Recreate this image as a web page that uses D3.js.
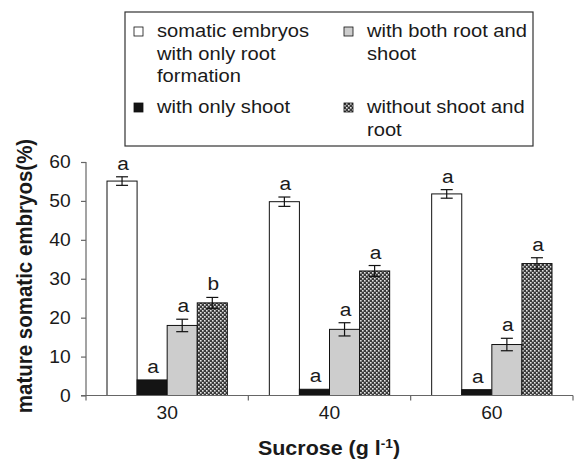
<!DOCTYPE html>
<html lang="en">
<head>
<meta charset="utf-8">
<title>Sucrose and mature somatic embryos</title>
<script src="https://d3js.org/d3.v7.min.js"></script>
<style>
    body{ margin:0; background:#fff; }
    text{ font-family: "Liberation Sans", Arial, sans-serif; fill:#1a1a1a; }
    .tickT{ font-size:17.5px; }
    .legendT{ font-size:18.3px; }
    .letterT{ font-size:19px; }
    .titleT{ font-size:19.5px; font-weight:bold; }
</style>
</head>
<body>
<div id="container"></div>
<script>
// data
var categories = ['30', '40', '60'];
var seriesKeys = ['root', 'shoot', 'both', 'none'];
var rootOnly  = [55.1, 49.8, 51.8];
var shootOnly = [4.0, 1.6, 1.5];
var bothRS    = [18.0, 17.0, 13.1];
var noneRS    = [23.8, 32.0, 33.9];
var rootErr   = [1.1, 1.2, 1.1];
var shootErr  = [0, 0, 0];
var bothErr   = [1.6, 1.7, 1.6];
var noneErr   = [1.4, 1.4, 1.5];
var rootLetters  = ['a', 'a', 'a'];
var shootLetters = ['a', 'a', 'a'];
var bothLetters  = ['a', 'a', 'a'];
var noneLetters  = ['b', 'a', 'a'];
var legendLines = [
    ['somatic embryos', 'with only root', 'formation'],
    ['with only shoot'],
    ['with both root and', 'shoot'],
    ['without shoot and', 'root']
];
var yTicks = [0, 10, 20, 30, 40, 50, 60];

var width = 576, height = 464;
var k = 1.1; // the figure's text is a little wider than tall
var plot = {left:86, right:573, top:162, bottom:395.5};

var svg = d3.select('#container').append('svg')
    .attr('width', width).attr('height', height);

var defs = svg.append('defs');
var pat = defs.append('pattern').attr('id', 'checker')
    .attr('width', 4).attr('height', 4).attr('patternUnits', 'userSpaceOnUse');
pat.append('rect').attr('width', 4).attr('height', 4).attr('fill', '#3a3a3a');
pat.append('rect').attr('x', 0).attr('y', 0).attr('width', 1.6).attr('height', 1.6).attr('fill', '#e4e4e4');
pat.append('rect').attr('x', 2).attr('y', 2).attr('width', 1.6).attr('height', 1.6).attr('fill', '#e4e4e4');

var fills = {root:'#ffffff', shoot:'#141414', both:'#cdcdcd', none:'url(#checker)'};
var values = {root:rootOnly, shoot:shootOnly, both:bothRS, none:noneRS};
var errs = {root:rootErr, shoot:shootErr, both:bothErr, none:noneErr};
var letters = {root:rootLetters, shoot:shootLetters, both:bothLetters, none:noneLetters};

var x0 = d3.scaleBand().domain(categories).range([plot.left, plot.right]);
var x1 = d3.scaleBand().domain(seriesKeys).range([21, x0.bandwidth() - 21]);
var y = d3.scaleLinear().domain([0, 60]).range([plot.bottom, plot.top]);

var data = [];
categories.forEach(function(c, i){
    seriesKeys.forEach(function(s){
        data.push({cat:c, key:s, v:values[s][i], e:errs[s][i], l:letters[s][i]});
    });
});

// bars
svg.append('g').selectAll('rect')
    .data(data).enter().append('rect')
    .attr('x', d => x0(d.cat) + x1(d.key))
    .attr('y', d => y(d.v))
    .attr('width', x1.bandwidth())
    .attr('height', d => y(0) - y(d.v))
    .attr('fill', d => fills[d.key])
    .attr('stroke', '#111')
    .attr('stroke-width', 1);

// error bars
var eb = svg.append('g').attr('stroke', '#111').attr('stroke-width', 1.2)
    .selectAll('g').data(data.filter(d => d.e > 0)).enter().append('g');
eb.append('line')
    .attr('x1', d => x0(d.cat) + x1(d.key) + x1.bandwidth()/2)
    .attr('x2', d => x0(d.cat) + x1(d.key) + x1.bandwidth()/2)
    .attr('y1', d => y(d.v + d.e)).attr('y2', d => y(d.v - d.e));
[1, -1].forEach(function(sg){
    eb.append('line')
        .attr('x1', d => x0(d.cat) + x1(d.key) + x1.bandwidth()/2 - 6)
        .attr('x2', d => x0(d.cat) + x1(d.key) + x1.bandwidth()/2 + 6)
        .attr('y1', d => y(d.v + sg*d.e)).attr('y2', d => y(d.v + sg*d.e));
});

// significance letters
svg.append('g').selectAll('text')
    .data(data).enter().append('text')
    .attr('class', 'letterT')
    .attr('text-anchor', 'middle')
    .attr('transform', d => 'translate(' + (x0(d.cat) + x1(d.key) + x1.bandwidth()/2 + 1) + ',' + (y(d.v + d.e) - 7) + ') scale(' + k + ',1)')
    .text(d => d.l);

// y axis
var yAxis = svg.append('g')
    .attr('transform', 'translate(' + plot.left + ',0)')
    .call(d3.axisLeft(y).tickValues(yTicks).tickSize(5).tickPadding(9));
yAxis.selectAll('path, line').attr('stroke', '#666').attr('stroke-width', 1.2);
yAxis.selectAll('text').attr('class', 'tickT').attr('font-size', null).attr('font-family', null)
    .attr('transform', 'scale(' + k + ',1)');
yAxis.select('.domain').attr('d', 'M0,' + (plot.top) + 'V' + (plot.bottom + 5));

// x axis
var xAxis = svg.append('g')
    .attr('transform', 'translate(0,' + plot.bottom + ')')
    .call(d3.axisBottom(x0).tickSize(0).tickPadding(11));
xAxis.select('.domain').attr('d', 'M' + (plot.left - 5) + ',0H' + plot.right)
    .attr('stroke', '#666').attr('stroke-width', 1.2);
xAxis.selectAll('.tick text').attr('class', 'tickT').attr('font-size', null).attr('font-family', null)
    .attr('transform', 'scale(' + k + ',1)');
xAxis.selectAll('.bound')
    .data(categories.slice(1).concat(['end'])).enter().append('line')
    .attr('class', 'bound')
    .attr('x1', d => d === 'end' ? plot.right : x0(d))
    .attr('x2', d => d === 'end' ? plot.right : x0(d))
    .attr('y1', 0).attr('y2', 5)
    .attr('stroke', '#666').attr('stroke-width', 1.2);

// axis titles
svg.append('text')
    .attr('class', 'titleT')
    .attr('text-anchor', 'middle')
    .attr('transform', 'translate(32,' + 276 + ') scale(' + k + ',1) rotate(-90)')
    .style('font-size', '20.5px')
    .text('mature somatic embryos(%)');
var xt = svg.append('text')
    .attr('class', 'titleT')
    .attr('text-anchor', 'middle')
    .attr('transform', 'translate(329,455) scale(' + k + ',1)');
xt.append('tspan').text('Sucrose (g l');
xt.append('tspan').attr('dy', -7).style('font-size', '12.5px').text('-1');
xt.append('tspan').attr('dy', 7).text(')');

// legend
svg.append('rect')
    .attr('x', 125).attr('y', 12).attr('width', 408).attr('height', 134)
    .attr('fill', '#fff').attr('stroke', '#333').attr('stroke-width', 1.2);
var colX = [134, 344], rowY = [37, 113];
var lg = svg.append('g').selectAll('g')
    .data(seriesKeys).enter().append('g')
    .attr('transform', (d, i) => 'translate(' + colX[Math.floor(i/2)] + ',' + rowY[i%2] + ')');
lg.append('rect')
    .attr('x', 0).attr('y', -10).attr('width', 9).attr('height', 9)
    .attr('fill', d => fills[d]).attr('stroke', '#111').attr('stroke-width', 0.8);
lg.each(function(d, i){
    var g = d3.select(this);
    legendLines[i].forEach(function(line, j){
        g.append('text')
            .attr('class', 'legendT')
            .attr('transform', 'translate(' + 23 + ',' + (j*22.7) + ') scale(' + k + ',1)')
            .text(line);
    });
});
</script>
</body>
</html>
